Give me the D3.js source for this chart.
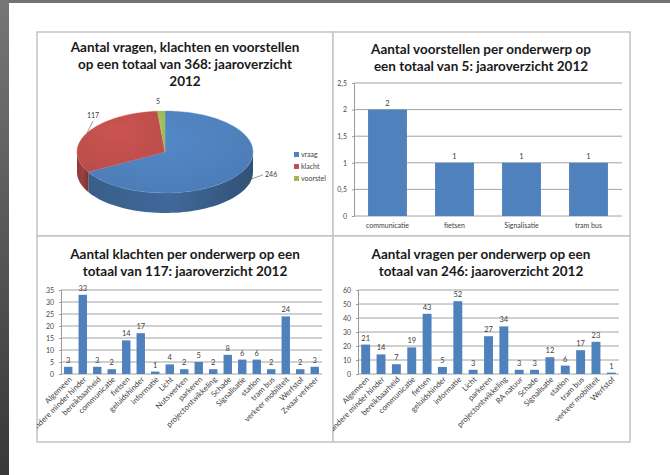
<!DOCTYPE html>
<html>
<head>
<meta charset="utf-8">
<script src="https://cdn.jsdelivr.net/npm/d3@7"></script>
<style>
  body { margin: 0; background: #fff; }
  svg { display: block; font-family: Lato, "Open Sans", sans-serif; }
</style>
</head>
<body>
<svg id="chart" width="670" height="475"></svg>
<script>
// gegevens
const pieCats = ["vraag", "klacht", "voorstel"];
const pieValues = [246, 117, 5];
const pieColors = ["#4F81BD", "#C0504D", "#9BBB59"];

const voorstelCats = ["communicatie", "fietsen", "Signalisatie", "tram bus"];
const voorstelValues = [2, 1, 1, 1];
const voorstelTicks = [0, 0.5, 1, 1.5, 2, 2.5];

const klachtCats = ["Algemeen", "andere minder hinder", "bereikbaarheid", "communicatie", "fietsen",
  "geluidshinder", "informatie", "Licht", "Nutswerken", "parkeren", "projectontwikkeling",
  "Schade", "Signalisatie", "station", "tram bus", "verkeer mobiliteit", "Werfstof", "Zwaar verkeer"];
const klachtValues = [3, 33, 3, 2, 14, 17, 1, 4, 2, 5, 2, 8, 6, 6, 2, 24, 2, 3];
const klachtTicks = [0, 5, 10, 15, 20, 25, 30, 35];

const vraagCats = ["Algemeen", "andere minder hinder", "bereikbaarheid", "communicatie", "fietsen",
  "geluidshinder", "informatie", "Licht", "parkeren", "projectontwikkeling", "RA natuur",
  "Schade", "Signalisatie", "station", "tram bus", "verkeer mobiliteit", "Werfstof"];
const vraagValues = [21, 14, 7, 19, 43, 5, 52, 3, 27, 34, 3, 3, 12, 6, 17, 23, 1];
const vraagTicks = [0, 10, 20, 30, 40, 50, 60];

const titles = {
  pie: ["Aantal vragen, klachten en voorstellen", "op een totaal van 368: jaaroverzicht", "2012"],
  voorstel: ["Aantal voorstellen per onderwerp op", "een totaal van 5: jaaroverzicht 2012"],
  klacht: ["Aantal klachten per onderwerp op een", "totaal van 117: jaaroverzicht 2012"],
  vraag: ["Aantal vragen per onderwerp op een", "totaal van 246: jaaroverzicht 2012"]
};

const svg = d3.select('#chart');
const defs = svg.append('defs');

// achtergrond: grijze randen van de scan
const edge = defs.append('linearGradient').attr('id', 'edge').attr('x1', 0).attr('y1', 0).attr('x2', 0).attr('y2', 1);
edge.append('stop').attr('offset', 0).attr('stop-color', '#767676');
edge.append('stop').attr('offset', 1).attr('stop-color', '#383838');
svg.append('rect').attr('x', 0).attr('y', 0).attr('width', 670).attr('height', 3).attr('fill', '#737373');
svg.append('rect').attr('x', 0).attr('y', 0).attr('width', 9).attr('height', 475).attr('fill', 'url(#edge)');

// cellen
const colX = [37, 333, 630];
const rowY = [32, 236, 442];
const cells = [];
rowY.slice(0, 2).forEach((y, r) => colX.slice(0, 2).forEach((x, c) => {
  cells.push({ x: x, y: y, w: colX[c + 1] - x, h: rowY[r + 1] - y, id: 'cell' + r + c });
}));
cells.forEach(c => {
  defs.append('clipPath').attr('id', c.id).append('rect')
    .attr('x', c.x).attr('y', c.y).attr('width', c.w).attr('height', c.h);
  svg.append('rect').attr('x', c.x).attr('y', c.y).attr('width', c.w).attr('height', c.h)
    .attr('fill', '#fff').attr('stroke', '#c4c4c4').attr('stroke-width', 1.5);
});

function drawTitle(lines, cx, y0) {
  svg.append('g').selectAll('text').data(lines).enter().append('text')
    .attr('x', cx).attr('y', (d, i) => y0 + i * 17)
    .attr('text-anchor', 'middle')
    .attr('font-size', 13.5).attr('font-weight', 'bold').attr('fill', '#1a1a1a')
    .text(d => d);
}

// staafdiagram
function barChart(cfg) {
  const g = svg.append('g').attr('clip-path', 'url(#' + cfg.clip + ')');
  const x = d3.scaleBand().domain(cfg.cats).range([cfg.x0, cfg.x1]).paddingInner(0.42).paddingOuter(0.21);
  const y = d3.scaleLinear().domain([0, d3.max(cfg.ticks)]).range([cfg.yb, cfg.yt]);

  // rasterlijnen
  g.append('g').selectAll('line').data(cfg.ticks).enter().append('line')
    .attr('x1', cfg.x0).attr('x2', cfg.x1)
    .attr('y1', d => y(d)).attr('y2', d => y(d))
    .attr('stroke', '#8c8c8c').attr('stroke-width', 0.8);

  // y-as
  const ax = g.append('g').attr('transform', 'translate(' + cfg.x0 + ',0)')
    .call(d3.axisLeft(y).tickValues(cfg.ticks).tickSize(2).tickPadding(5)
      .tickFormat(d => String(d).replace('.', ',')));
  ax.select('.domain').attr('stroke', '#9a9a9a');
  ax.selectAll('.tick line').attr('stroke', '#9a9a9a');
  ax.selectAll('text').attr('font-size', 7).attr('fill', '#4a4a4a').attr('font-family', 'Lato');

  // staven
  g.append('g').selectAll('rect').data(cfg.values).enter().append('rect')
    .attr('x', (d, i) => x(cfg.cats[i]))
    .attr('y', d => y(d))
    .attr('width', x.bandwidth())
    .attr('height', d => y(0) - y(d))
    .attr('fill', '#4F81BD');

  // waardelabels
  g.append('g').selectAll('text').data(cfg.values).enter().append('text')
    .attr('x', (d, i) => x(cfg.cats[i]) + x.bandwidth() / 2)
    .attr('y', d => y(d) - 4)
    .attr('text-anchor', 'middle')
    .attr('font-size', 7.5).attr('fill', '#404040')
    .text(d => d);

  // categorielabels
  const lab = g.append('g').selectAll('text').data(cfg.cats).enter().append('text')
    .attr('font-size', cfg.rotate ? 7.8 : 7).attr('fill', '#404040')
    .text(d => d);
  if (cfg.rotate) {
    lab.attr('text-anchor', 'end')
      .attr('transform', d => 'translate(' + (x(d) + x.bandwidth() / 2 + 4) + ',' + (cfg.yb + 6) + ') rotate(-45)');
  } else {
    lab.attr('text-anchor', 'middle')
      .attr('x', d => x(d) + x.bandwidth() / 2)
      .attr('y', cfg.yb + 12);
  }
}

// 3D-taartdiagram
function pieChart() {
  const cx = 165, cy = 152, rx = 88, ry = 41, depth = 20;
  const total = d3.sum(pieValues);
  const pt = (a, dy) => [cx + rx * Math.sin(a), cy - ry * Math.cos(a) + (dy || 0)];
  let acc = 0;
  const slices = pieValues.map((v, i) => {
    const a0 = acc / total * 2 * Math.PI;
    acc += v;
    return { cat: pieCats[i], value: v, color: pieColors[i], a0: a0, a1: acc / total * 2 * Math.PI };
  });
  const arcPts = (a0, a1, dy) => d3.range(0, 61).map(k => pt(a0 + (a1 - a0) * k / 60, dy));

  slices.forEach((s, i) => {
    const gr = defs.append('linearGradient').attr('id', 'side' + i)
      .attr('x1', 0).attr('y1', 0).attr('x2', 1).attr('y2', 0);
    gr.append('stop').attr('offset', 0).attr('stop-color', d3.color(s.color).darker(0.9));
    gr.append('stop').attr('offset', 0.5).attr('stop-color', d3.color(s.color).darker(0.6));
    gr.append('stop').attr('offset', 1).attr('stop-color', d3.color(s.color).darker(1.3));
    const tg = defs.append('radialGradient').attr('id', 'top' + i)
      .attr('cx', 0.45).attr('cy', 0.35).attr('r', 0.7);
    tg.append('stop').attr('offset', 0).attr('stop-color', d3.color(s.color).brighter(0.15));
    tg.append('stop').attr('offset', 1).attr('stop-color', d3.color(s.color).darker(0.1));
  });

  const g = svg.append('g');
  // zijwanden (alleen voorkant zichtbaar)
  slices.forEach((s, i) => {
    const a0 = Math.max(s.a0, Math.PI / 2), a1 = Math.min(s.a1, 3 * Math.PI / 2);
    if (a0 >= a1) return;
    const pts = arcPts(a0, a1, 0).concat(arcPts(a1, a0, depth));
    g.append('path').attr('d', d3.line()(pts) + 'Z').attr('fill', 'url(#side' + i + ')');
  });
  // bovenvlak
  slices.forEach((s, i) => {
    const pts = [[cx, cy]].concat(arcPts(s.a0, s.a1, 0));
    g.append('path').attr('d', d3.line()(pts) + 'Z')
      .attr('fill', 'url(#top' + i + ')')
      .attr('stroke', d3.color(s.color).brighter(0.3)).attr('stroke-width', 0.4);
  });

  // labels met verbindingslijnen
  const nudge = { vraag: [16, -2], klacht: [12, -8], voorstel: [-3, 4] };
  slices.forEach(s => {
    const m = (s.a0 + s.a1) / 2;
    const rim = pt(m, m > Math.PI / 2 && m < 3 * Math.PI / 2 ? depth / 2 : 0);
    const out = [cx + rx * 1.08 * Math.sin(m) + nudge[s.cat][0], cy - ry * 1.2 * Math.cos(m) + nudge[s.cat][1]];
    if (s.cat !== 'voorstel') {
      g.append('line').attr('x1', rim[0]).attr('y1', rim[1]).attr('x2', out[0]).attr('y2', out[1])
        .attr('stroke', '#555').attr('stroke-width', 0.6);
    }
    g.append('text')
      .attr('x', out[0] + (s.cat === 'vraag' ? 2 : 0))
      .attr('y', out[1] + (s.cat === 'vraag' ? 2 : -3))
      .attr('text-anchor', s.cat === 'vraag' ? 'start' : 'middle')
      .attr('font-size', 7).attr('fill', '#404040')
      .text(s.value);
  });

  // legenda
  const lg = svg.append('g').selectAll('g').data(slices).enter().append('g')
    .attr('transform', (d, i) => 'translate(294,' + (152 + i * 12) + ')');
  lg.append('rect').attr('width', 5).attr('height', 5).attr('fill', d => d.color);
  lg.append('text').attr('x', 7).attr('y', 5).attr('font-size', 7).attr('fill', '#404040').text(d => d.cat);
}

drawTitle(titles.pie, 185, 52);
pieChart();

drawTitle(titles.voorstel, 481, 54);
barChart({ clip: 'cell01', cats: voorstelCats, values: voorstelValues, ticks: voorstelTicks,
  x0: 354, x1: 622, yt: 83, yb: 216, rotate: false });

drawTitle(titles.klacht, 185, 259);
barChart({ clip: 'cell10', cats: klachtCats, values: klachtValues, ticks: klachtTicks,
  x0: 61, x1: 322, yt: 290, yb: 374, rotate: true });

drawTitle(titles.vraag, 481, 259);
barChart({ clip: 'cell11', cats: vraagCats, values: vraagValues, ticks: vraagTicks,
  x0: 358, x1: 619, yt: 290, yb: 374, rotate: true });
</script>
</body>
</html>
